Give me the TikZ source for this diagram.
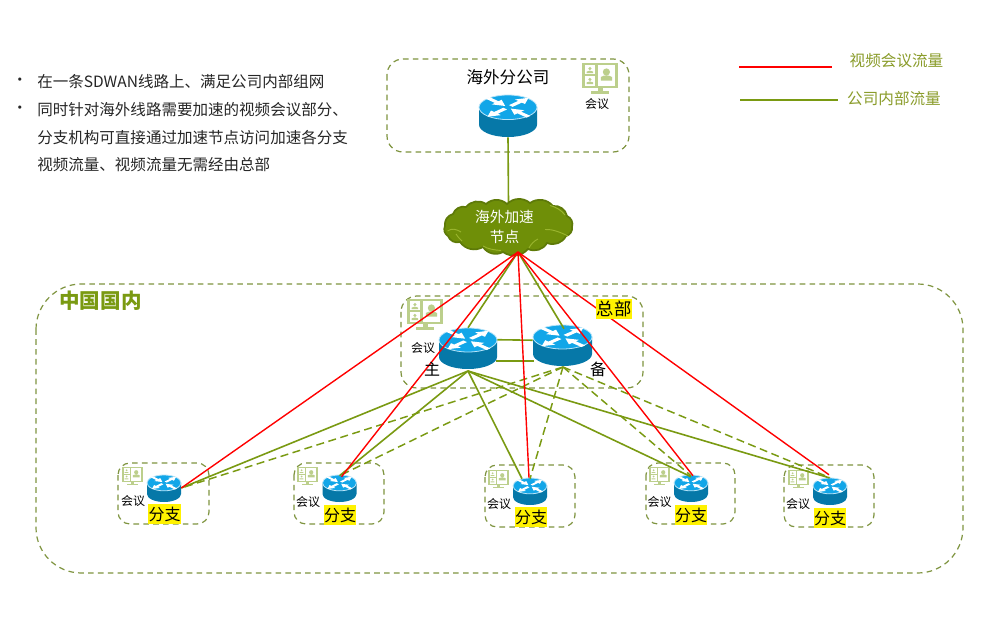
\documentclass[tikz,border=0pt]{standalone}
\usepackage{fontspec}
\setmainfont{Noto Sans CJK SC}
\usetikzlibrary{calc}
\definecolor{leaf}{HTML}{7A9A12}
\definecolor{frameline}{HTML}{7F9440}
\definecolor{iconleaf}{HTML}{BCCF8C}
\definecolor{legendtext}{HTML}{8A9C2A}
\definecolor{cloudfill}{HTML}{6F8F08}
\definecolor{cloudedge}{HTML}{5E7A08}
\definecolor{cloudfold}{HTML}{9AB52E}
\definecolor{routertop}{HTML}{12A6E8}
\definecolor{routerside}{HTML}{0678A8}
\tikzset{
  frame/.style={draw=frameline,line width=.9pt,dash pattern=on 4.2pt off 3.2pt},
  redflow/.style={draw=red,line width=1.05pt},
  greenflow/.style={draw=leaf,line width=1.2pt},
  greendash/.style={draw=leaf,line width=1.1pt,dash pattern=on 6pt off 3.4pt},
  anchorpt/.style={inner sep=0pt,minimum size=0pt},
  txt/.style={inner sep=0pt,font=\fontsize{#1}{#1}\selectfont},
  tag/.style={fill=yellow,inner sep=0pt,text=black,minimum width=24.5pt,minimum height=14.5pt,font=\fontsize{12}{12}\selectfont},
  bodytext/.style={anchor=west,inner sep=0pt,text=black!85,font=\fontsize{11.65}{11.65}\selectfont},
  puff/.style={bend left=42},
}
% Arrow of the router face, pointing along +x before rotation
\newcommand{\facearrow}[2]{%
  \begin{scope}[rotate=#1]
    \begin{scope}[#2]
      \fill[white] (4,-2.6)--(17,-2.6)--(17,-7)--(29,0)--(17,7)--(17,2.6)--(4,2.6)--cycle;
    \end{scope}
  \end{scope}}
% Router symbol: name, centre x, top y, width, total height
\newcommand{\router}[5]{%
  \pgfmathsetmacro{\sx}{#4/58}\pgfmathsetmacro{\sy}{#5/41}
  \begin{scope}[shift={(#2,#3)},xscale=\sx,yscale=\sy,shift={(0,12)}]
    \fill[routerside] (-29,0) -- (-29,17) arc[x radius=29,y radius=12,start angle=180,end angle=0] -- (29,0) -- cycle;
    \fill[routertop,draw=white!70!routertop,line width=.6pt] (0,0) ellipse[x radius=29,y radius=12];
    \begin{scope}[yscale=.45]
      \facearrow{45}{}
      \facearrow{225}{}
      \facearrow{135}{xshift=33pt*0.75,xscale=-1}
      \facearrow{315}{xshift=33pt*0.75,xscale=-1}
    \end{scope}
  \end{scope}
  \node[anchorpt,minimum width=#4*0.75pt,minimum height=#5*0.75pt] (#1) at ($(#2,#3)+(0,#5/2)$) {};}
% Video-meeting icon: left x, top y, width
\newcommand{\meetingicon}[3]{%
  \pgfmathsetmacro{\ic}{#3/36}
  \begin{scope}[shift={(#1,#2)},scale=\ic]
    \fill[iconleaf] (0,0) rectangle (36,25.5);
    \fill[white] (2.8,2.4) rectangle (13.4,11.4);
    \fill[white] (2.8,13.4) rectangle (13.4,23.2);
    \fill[white] (16,2.4) rectangle (33.2,23.2);
    \foreach \px/\py/\pr/\hw/\bt/\bb in {7.9/5.6/1.7/3.2/7.6/10.2, 7.9/16.4/1.7/3.2/18.4/21.2, 24.4/9/3.6/5.6/13/17.6}{
      \fill[iconleaf] (\px,\py) circle[radius=\pr];
      \fill[iconleaf] (\px-\hw,\bb) -- (\px-\hw,\bt+1) to[bend left=30] (\px+\hw,\bt+1) -- (\px+\hw,\bb) -- cycle;
    }
    \fill[iconleaf] (15.5,25.5) rectangle (20.5,28.5);
    \fill[iconleaf] (9,28.5) rectangle (27,31);
  \end{scope}}
\begin{document}
\begin{tikzpicture}[x=.75pt,y=-.75pt]
\useasboundingbox (0,0) rectangle (1000,627);
\fill[white] (0,0) rectangle (1000,627);

% Dashed enclosures
\draw[frame,rounded corners=34pt] (36,284) rectangle (963,573);
\draw[frame,rounded corners=12pt] (387,59) rectangle (629,152);
\draw[frame,rounded corners=12pt] (401,296) rectangle (643,388);
\draw[frame,rounded corners=9pt] (118,463) rectangle (209,524);
\draw[frame,rounded corners=9pt] (294,463) rectangle (384,524);
\draw[frame,rounded corners=9pt] (485,465) rectangle (575,527);
\draw[frame,rounded corners=9pt] (646,463) rectangle (735,524);
\draw[frame,rounded corners=9pt] (784,465) rectangle (874,527);

% Meeting icons
\meetingicon{582}{63}{36}
\meetingicon{407}{299}{36}
\meetingicon{122}{467}{21}
\meetingicon{297}{467}{21}
\meetingicon{488}{470}{21}
\meetingicon{649}{467}{21}
\meetingicon{788}{470}{21}

% Routers
\router{overseas}{508}{95}{58}{42}
\router{main}{468}{328}{58}{41}
\router{standby}{562.5}{325}{59}{41}
\router{brA}{164}{475}{34}{27}
\router{brB}{339.5}{475}{34}{27}
\router{brC}{530}{478}{34}{27}
\router{brD}{691}{475}{34}{27}
\router{brE}{830}{478}{34}{27}

% Acceleration cloud: outline, inner fold lines, caption
\node[anchorpt,minimum width=96.75pt,minimum height=37.5pt] (accel) at (508.5,228) {};
\draw[greenflow] (overseas.south) -- (accel.north);
\filldraw[draw=cloudedge,fill=cloudfill,line width=1.3pt]
  (445,226) to[puff] (453,214) to[puff] (466,207) to[puff] (486,204) to[puff] (507,204)
  to[puff] (530,203) to[puff] (553,206) to[puff] (567,216) to[puff] (572,227)
  to[puff] (566,236) to[puff] (547,243) to[puff] (528,249) to[puff] (503,252)
  to[puff] (483,247) to[puff] (460,242) to[puff] (448,236) to[puff] cycle;
\draw[cloudfold,line width=.7pt]
  (447.5,231) .. controls (452,228) and (456,229) .. (461,232)
  (462,241) .. controls (459,238) and (457,236) .. (456,234)
  (545,229.5) .. controls (552,229) and (560,232) .. (568,236)
  (529,248) .. controls (531,244) and (534,241) .. (538,239)
  (483,246) .. controls (488,249) and (494,250) .. (501,250.5)
  (550,205.5) .. controls (556,207) and (561,210) .. (565,215);
\node[txt=11,text=white,align=center,font=\fontsize{11}{15}\selectfont] (accelText) at (504.5,226.5) {海外加速\\节点};

% Points where the flows meet
\coordinate (fan) at (518,252);
\coordinate (mainfoot) at (468,371);
\coordinate (standbyfoot) at (563,367);

% The pair of links between the head-office routers
\draw[greenflow] ($(main.north east)+(0,12)$) -- ($(standby.north west)+(0,15.5)$);
\draw[greenflow] ($(main.north east)+(-1,33.5)$) -- ($(standby.north west)+(1,36.5)$);

% Internal traffic
\draw[greenflow] (fan) -- (main.north);
\draw[greenflow] (fan) -- ($(standby.north)+(1.5,4)$);
\draw[greenflow] (mainfoot) -- ($(brA.east)+(0,-.5)$);
\draw[greenflow] (mainfoot) -- ($(brB.north)+(0,1)$);
\draw[greenflow] (mainfoot) -- ($(brC.north)+(-8,1)$);
\draw[greenflow] (mainfoot) -- ($(brD.north)+(0,2)$);
\draw[greenflow] (mainfoot) -- ($(brE.north)+(-1,0)$);
\draw[greendash] (standbyfoot) -- ($(brA.east)+(0,-.5)$);
\draw[greendash] (standbyfoot) -- ($(brB.north)+(0,1)$);
\draw[greendash] (standbyfoot) -- ($(brC.north)+(0,1)$);
\draw[greendash] (standbyfoot) -- ($(brD.north)+(0,1)$);
\draw[greendash] (standbyfoot) -- ($(brE.north)+(0,0)$);

% Video traffic
\draw[redflow] (fan) -- ($(brA.east)+(0,-.5)$);
\draw[redflow] (fan) -- ($(brB.north)+(2,2)$);
\draw[redflow] (fan) -- ($(brC.north)+(-1,0)$);
\draw[redflow] (fan) -- ($(brD.north)+(2,1)$);
\draw[redflow] (fan) -- ($(brE.north)+(-1,-3)$);

% Legend
\coordinate (legR1) at (739,67); \coordinate (legR2) at (832,67);
\coordinate (legG1) at (740,100); \coordinate (legG2) at (838,100);
\draw[redflow] (legR1) -- (legR2);
\draw[greenflow] (legG1) -- (legG2);
\node[txt=11.7,text=legendtext] (legRtext) at (896.5,61) {视频会议流量};
\node[txt=11.7,text=legendtext] (legGtext) at (894,99) {公司内部流量};

% Site titles and labels
\node[txt=12.4,text=black] (titleOverseas) at (508,77) {海外分公司};
\node[txt=15.4,text=leaf,font=\bfseries\fontsize{15.4}{15.4}\selectfont] (titleChina) at (100.5,300.5) {中国国内};
\node[tag,minimum width=27pt,minimum height=15.5pt,font=\fontsize{13}{13}\selectfont] (titleHQ) at (614,309) {总部};
\node[txt=12] (lblMain) at (432,369) {主};
\node[txt=12] (lblStandby) at (598,369) {备};

\node[txt=9] (mtgO) at (597,103.5) {会议};
\node[txt=9] (mtgH) at (423,347.5) {会议};
\node[txt=9] (mtgA) at (133,501) {会议};
\node[txt=9] (mtgB) at (308,502) {会议};
\node[txt=9] (mtgC) at (499,504) {会议};
\node[txt=9] (mtgD) at (659.5,502) {会议};
\node[txt=9] (mtgE) at (798,504) {会议};

\node[tag] (tagA) at (164.5,514) {分支};
\node[tag] (tagB) at (340,515) {分支};
\node[tag] (tagC) at (531,517) {分支};
\node[tag] (tagD) at (691,515) {分支};
\node[tag] (tagE) at (830,518) {分支};

% Summary text
\node[bodytext,anchor=center] (dot1) at (20,82) {•};
\node[bodytext,anchor=center] (dot2) at (20,110) {•};
\node[bodytext] (line1) at (37,82) {在一条SDWAN线路上、满足公司内部组网};
\node[bodytext] (line2) at (37,110) {同时针对海外线路需要加速的视频会议部分、};
\node[bodytext] (line3) at (37,137.5) {分支机构可直接通过加速节点访问加速各分支};
\node[bodytext] (line4) at (37,165) {视频流量、视频流量无需经由总部};
\end{tikzpicture}
\end{document}
